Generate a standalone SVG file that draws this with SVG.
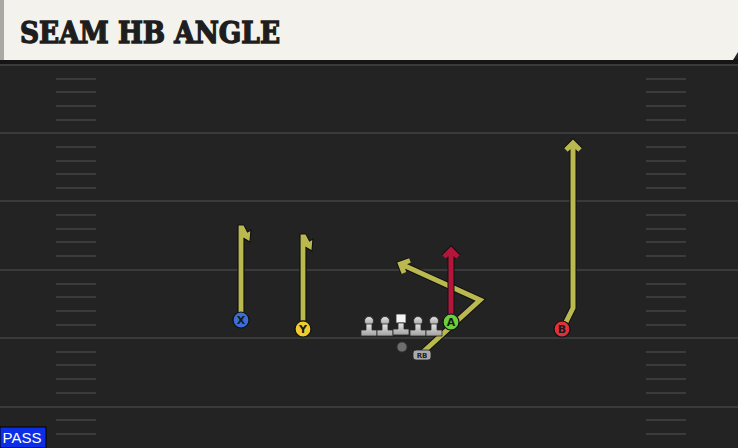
<svg xmlns="http://www.w3.org/2000/svg" width="738" height="448" viewBox="0 0 738 448">
<defs>
<style>
.field{stroke:#3a3a3a;stroke-width:2}
.hash{stroke:#3b3b3b;stroke-width:2}
.rtO{fill:none;stroke:#111;stroke-width:7;stroke-linejoin:miter;stroke-linecap:butt}
.rt{fill:none;stroke:#b9b94f;stroke-width:5;stroke-linejoin:miter;stroke-linecap:butt}
.rdO{fill:none;stroke:#111;stroke-width:7;stroke-linejoin:miter}
.rd{fill:none;stroke:#b3163a;stroke-width:5;stroke-linejoin:miter}
.lbl{font-family:"DejaVu Sans",sans-serif;font-weight:bold;font-size:11px;fill:#1a1a1a;text-anchor:middle}
.ol{fill:url(#lg1);stroke:#2a2a2a;stroke-width:0.8}
</style>
<linearGradient id="lg1" x1="0" y1="0" x2="0" y2="1">
<stop offset="0" stop-color="#e4e4e4"/>
<stop offset="1" stop-color="#a0a0a0"/>
</linearGradient>
</defs>
<rect width="738" height="448" fill="#232323"/>
<g id="header">
<rect x="0" y="59" width="738" height="6" fill="#151515"/>
<path d="M0,0 H738 V52 L733,60 H0 Z" fill="#f4f2ec"/>
<rect x="0" y="0" width="4" height="60" fill="#a8a8a4"/>
<text x="20" y="43" font-family="DejaVu Serif, serif" font-weight="bold" font-size="29" fill="#1e1e1e" stroke="#1e1e1e" stroke-width="1.4" textLength="260" lengthAdjust="spacingAndGlyphs">SEAM HB ANGLE</text>
</g>
<g id="field">
<line class="field" x1="0" y1="65" x2="738" y2="65"/>
<line class="field" x1="0" y1="133" x2="738" y2="133"/>
<line class="field" x1="0" y1="201" x2="738" y2="201"/>
<line class="field" x1="0" y1="270" x2="738" y2="270"/>
<line class="field" x1="0" y1="338" x2="738" y2="338"/>
<line class="field" x1="0" y1="407" x2="738" y2="407"/>
<g class="hash">
<path d="M56,79h40M56,92h40M56,106h40M56,120h40M56,147h40M56,161h40M56,174h40M56,188h40M56,215h40M56,229h40M56,242h40M56,256h40M56,284h40M56,297h40M56,311h40M56,325h40M56,352h40M56,365h40M56,379h40M56,393h40M56,420h40M56,434h40"/>
<path d="M646,79h40M646,92h40M646,106h40M646,120h40M646,147h40M646,161h40M646,174h40M646,188h40M646,215h40M646,229h40M646,242h40M646,256h40M646,284h40M646,297h40M646,311h40M646,325h40M646,352h40M646,365h40M646,379h40M646,393h40M646,420h40M646,434h40"/>
</g>
</g>
<g id="connectors">
<path d="M238,225 L244,225 L247.5,232 L251,230 L250,242 L244,238.5 L244,313 L238,313 Z" fill="#b9b94f" stroke="#111" stroke-width="1.2"/>
<path d="M300,234 L306,234 L309.5,241 L313,239 L312,251 L306,247.5 L306,321 L300,321 Z" fill="#b9b94f" stroke="#111" stroke-width="1.2"/>
<path class="rtO" d="M423,352 L480,300 L403,265 M404,273 L400.5,264 L410,260.5"/>
<path class="rt" d="M423,352 L480,300 L403,265 M404,273 L400.5,264 L410,260.5"/>
<path class="rtO" d="M566,322 L573,308 V143 M566,150 L573,143 L580,150"/>
<path class="rt" d="M566,322 L573,308 V143 M566,150 L573,143 L580,150"/>
<path class="rdO" d="M451,314 V250 M444,257 L451,250 L458,257"/>
<path class="rd" d="M451,314 V250 M444,257 L451,250 L458,257"/>
</g>
<g id="line">
<g id="lt"><circle class="ol" cx="369" cy="321" r="4.5"/><path class="ol" d="M366,324 h6 v6 h5 v6 h-16 v-6 h5 Z"/></g>
<g id="lg"><circle class="ol" cx="385" cy="321" r="4.5"/><path class="ol" d="M382,324 h6 v6 h5 v6 h-16 v-6 h5 Z"/></g>
<g id="c"><rect x="396" y="314" width="10" height="9" fill="#f4f4f4" stroke="#2a2a2a" stroke-width="0.8"/><path class="ol" d="M398,323 h6 v6 h5 v6 h-16 v-6 h5 Z"/></g>
<g id="rg"><circle class="ol" cx="418" cy="321" r="4.5"/><path class="ol" d="M415,324 h6 v6 h5 v6 h-16 v-6 h5 Z"/></g>
<g id="rtk"><circle class="ol" cx="434" cy="321" r="4.5"/><path class="ol" d="M431,324 h6 v6 h5 v6 h-16 v-6 h5 Z"/></g>
</g>
<g id="qb"><circle cx="402" cy="347" r="5" fill="#6e6e6e" stroke="#333" stroke-width="0.8"/></g>
<g id="rb"><rect x="413" y="350" width="18" height="10" rx="3" fill="#a9a9a9" stroke="#222" stroke-width="0.8"/><text x="422" y="358" font-family="DejaVu Sans, sans-serif" font-weight="bold" font-size="7" fill="#222" text-anchor="middle">RB</text></g>
<g id="X"><circle cx="241" cy="320" r="8" fill="#3b6fd6" stroke="#111" stroke-width="1.2"/><text class="lbl" x="241" y="324">X</text></g>
<g id="Y"><circle cx="303" cy="329" r="8" fill="#f2cc2e" stroke="#111" stroke-width="1.2"/><text class="lbl" x="303" y="333">Y</text></g>
<g id="A"><circle cx="451" cy="322" r="8" fill="#6bd03c" stroke="#111" stroke-width="1.2"/><text class="lbl" x="451" y="326">A</text></g>
<g id="B"><circle cx="562" cy="329" r="8" fill="#e0303c" stroke="#111" stroke-width="1.2"/><text class="lbl" x="562" y="333">B</text></g>
<g id="pass"><rect x="0" y="427" width="46" height="21" fill="#0c2ee6" stroke="#000" stroke-width="1"/><text x="22" y="443" font-family="Liberation Sans, sans-serif" font-size="15" fill="#fff" text-anchor="middle">PASS</text></g>
</svg>
